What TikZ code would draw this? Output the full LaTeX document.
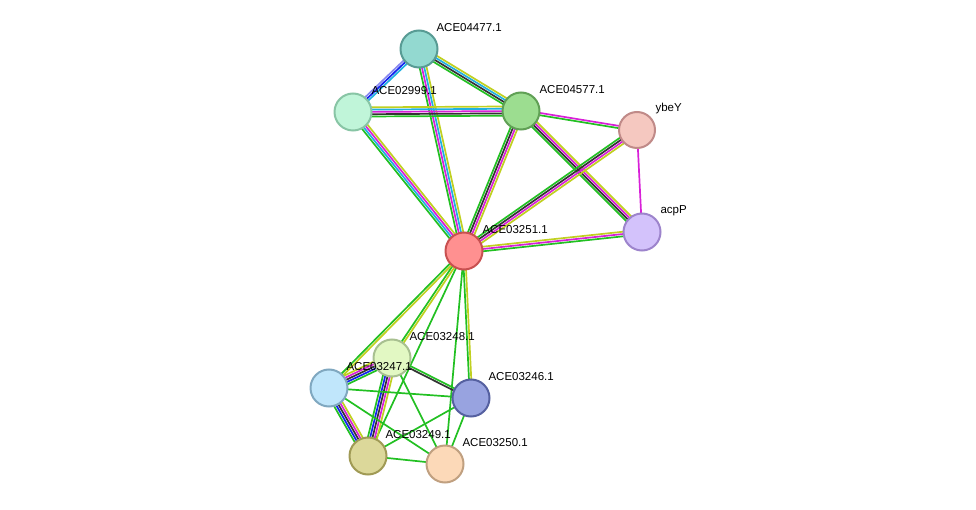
\documentclass[tikz,border=0pt]{standalone}
\usepackage{fontspec}
\setmainfont{Liberation Sans}
\usetikzlibrary{calc,backgrounds}

\definecolor{lgreen}{HTML}{22C022}
\definecolor{lyellow}{HTML}{C0D020}
\definecolor{lcyan}{HTML}{20B0E0}
\definecolor{lmag}{HTML}{D820D8}
\definecolor{lblack}{HTML}{333333}
\definecolor{lblue}{HTML}{1122EE}
\definecolor{lpurp}{HTML}{8888EE}

% one coloured line per evidence channel, side by side
\newcommand{\strlink}[4]{%
  \foreach \c [count=\i] in {#4} {
    \pgfmathsetmacro{\o}{(\i-(#3+1)/2)*2.3}
    \draw[\c,line width=1.7pt] ($(#1)!\o pt!90:(#2)$) -- ($(#2)!\o pt!-90:(#1)$);
  }}

\begin{document}
\begin{tikzpicture}[x=1pt,y=-1pt,
  prot/.style={circle,minimum size=37pt,inner sep=0pt,line width=2pt},
  lab/.style={font=\fontsize{11.5}{13}\selectfont,anchor=west}]
  \useasboundingbox (0,0) rectangle (976,510);

  \node[prot,fill={rgb,255:red,147;green,217;blue,208},draw={rgb,255:red,88;green,155;blue,148}] (a4477) at (419,49) {};
  \node[prot,fill={rgb,255:red,192;green,245;blue,217},draw={rgb,255:red,136;green,197;blue,165}] (a2999) at (353,112) {};
  \node[prot,fill={rgb,255:red,156;green,221;blue,144},draw={rgb,255:red,96;green,160;blue,85}] (a4577) at (521,111) {};
  \node[prot,minimum size=36pt,fill={rgb,255:red,245;green,200;blue,192},draw={rgb,255:red,192;green,138;blue,136}] (ybey) at (637,130) {};
  \node[prot,fill={rgb,255:red,211;green,194;blue,251},draw={rgb,255:red,157;green,132;blue,204}] (acpp) at (642,232) {};
  \node[prot,fill={rgb,255:red,255;green,144;blue,144},draw={rgb,255:red,200;green,80;blue,80}] (a3251) at (464,251) {};
  \node[prot,fill={rgb,255:red,226;green,248;blue,195},draw={rgb,255:red,168;green,192;blue,144}] (a3248) at (392,358) {};
  \node[prot,fill={rgb,255:red,192;green,230;blue,251},draw={rgb,255:red,128;green,168;blue,192}] (a3247) at (329,388) {};
  \node[prot,fill={rgb,255:red,152;green,163;blue,224},draw={rgb,255:red,85;green,96;blue,160}] (a3246) at (471,398) {};
  \node[prot,fill={rgb,255:red,220;green,216;blue,154},draw={rgb,255:red,160;green,154;blue,85}] (a3249) at (368,456) {};
  \node[prot,fill={rgb,255:red,252;green,217;blue,184},draw={rgb,255:red,192;green,160;blue,128}] (a3250) at (445,464) {};

  \node[lab] (l4477) at (433,28) {ACE04477.1};
  \node[lab] (l2999) at (368,91) {ACE02999.1};
  \node[lab] (l4577) at (536,90) {ACE04577.1};
  \node[lab] (lybey) at (652,109) {ybeY};
  \node[lab] (lacpp) at (657,211) {acpP};
  \node[lab] (l3251) at (479,230) {ACE03251.1};
  \node[lab] (l3248) at (406,337) {ACE03248.1};
  \node[lab] (l3247) at (343,367) {ACE03247.1};
  \node[lab] (l3246) at (485,377) {ACE03246.1};
  \node[lab] (l3249) at (382,435) {ACE03249.1};
  \node[lab] (l3250) at (459,443) {ACE03250.1};

  \begin{pgfonlayer}{background}
    \strlink{a4477}{a2999}{3}{lpurp,lblue,lcyan}
    \strlink{a4477}{a4577}{4}{lgreen,lblack,lcyan,lyellow}
    \strlink{a4477}{a3251}{4}{lgreen,lmag,lcyan,lyellow}
    \strlink{a2999}{a4577}{5}{lgreen,lblack,lmag,lcyan,lyellow}
    \strlink{a2999}{a3251}{4}{lgreen,lcyan,lmag,lyellow}
    \strlink{a4577}{a3251}{4}{lgreen,lblack,lmag,lyellow}
    \strlink{a4577}{ybey}{2}{lgreen,lmag}
    \strlink{a4577}{acpp}{4}{lgreen,lblack,lmag,lyellow}
    \strlink{ybey}{a3251}{4}{lgreen,lblack,lmag,lyellow}
    \strlink{ybey}{acpp}{1}{lmag}
    \strlink{acpp}{a3251}{3}{lyellow,lmag,lgreen}
    \strlink{a3251}{a3248}{2}{lgreen,lyellow}
    \strlink{a3251}{a3247}{2}{lgreen,lyellow}
    \strlink{a3251}{a3246}{2}{lgreen,lyellow}
    \strlink{a3251}{a3249}{1}{lgreen}
    \strlink{a3251}{a3250}{1}{lgreen}
    \strlink{a3247}{a3248}{5}{lgreen,lblue,lblack,lmag,lyellow}
    \strlink{a3247}{a3249}{5}{lgreen,lblue,lblack,lmag,lyellow}
    \strlink{a3248}{a3249}{5}{lgreen,lblue,lblack,lmag,lyellow}
    \strlink{a3248}{a3246}{2}{lblack,lgreen}
    \strlink{a3247}{a3246}{1}{lgreen}
    \strlink{a3247}{a3250}{1}{lgreen}
    \strlink{a3248}{a3250}{1}{lgreen}
    \strlink{a3249}{a3246}{1}{lgreen}
    \strlink{a3249}{a3250}{1}{lgreen}
    \strlink{a3246}{a3250}{1}{lgreen}
  \end{pgfonlayer}
\end{tikzpicture}
\end{document}
